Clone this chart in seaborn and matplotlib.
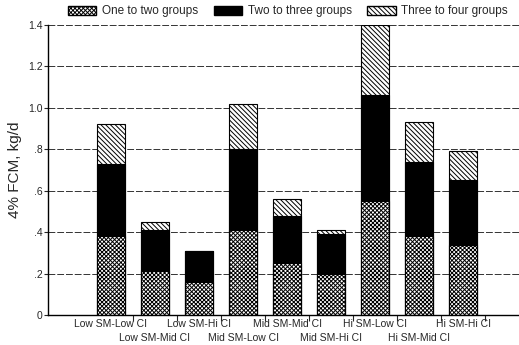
import matplotlib
matplotlib.use("Agg")
import matplotlib.pyplot as plt
import seaborn as sns
import pandas as pd
from matplotlib.patches import Patch
from matplotlib.ticker import FuncFormatter

treatments = ["Low SM-Low CI", "Low SM-Mid CI", "Low SM-Hi CI",
              "Mid SM-Low CI", "Mid SM-Mid CI", "Mid SM-Hi CI",
              "Hi SM-Low CI", "Hi SM-Mid CI", "Hi SM-Hi CI"]
one_to_two = [0.38, 0.21, 0.16, 0.41, 0.25, 0.20, 0.55, 0.38, 0.34]
two_to_three = [0.35, 0.20, 0.15, 0.39, 0.23, 0.19, 0.51, 0.36, 0.31]
three_to_four = [0.19, 0.04, 0.00, 0.22, 0.08, 0.02, 0.34, 0.19, 0.14]

df = pd.DataFrame({"treatment": treatments,
                   "one": one_to_two, "two": two_to_three, "three": three_to_four})
df["lvl1"] = df["one"]
df["lvl2"] = df["one"] + df["two"]
df["lvl3"] = df["lvl2"] + df["three"]

sns.set_style("white")
plt.rcParams["font.family"] = ["Liberation Sans", "DejaVu Sans"]
plt.rcParams["hatch.linewidth"] = 0.7

HATCH_LOW = "xxxxxxxx"
HATCH_TOP = "\\\\\\\\\\\\\\"

fig = plt.figure(figsize=(5.19, 3.45), dpi=100)
ax = fig.add_axes([0.0925, 0.087, 0.9075, 0.8405])

# horizontal grid behind the bars
for v in [0.2, 0.4, 0.6, 0.8, 1.0, 1.2, 1.4]:
    ax.axhline(v, color="#333333", lw=0.7, ls=(0, (7, 2)), zorder=0)

bar_kw = dict(x="treatment", order=treatments, width=0.64, edgecolor="black",
              linewidth=0.8, ax=ax, zorder=2)
sns.barplot(data=df, y="lvl3", color="white", hatch=HATCH_TOP, **bar_kw)
sns.barplot(data=df, y="lvl2", color="black", **bar_kw)
sns.barplot(data=df, y="lvl1", color="white", hatch=HATCH_LOW, **bar_kw)

ax.set_xlim(-1.43, 9.27)
ax.set_ylim(0, 1.4)
ax.set_yticks([0, 0.2, 0.4, 0.6, 0.8, 1.0, 1.2, 1.4])
ax.yaxis.set_major_formatter(FuncFormatter(
    lambda v, p: "0" if v == 0 else (f"{v:.1f}" if v >= 1 else f"{v:.1f}"[1:])))
ax.set_xticks(range(len(treatments)))
ax.set_xticklabels(treatments)
ax.set_xticks([i + 0.5 for i in range(len(treatments))], minor=True)
ax.tick_params(axis="x", which="major", length=0, labelsize=7.5, pad=3)
ax.tick_params(axis="x", which="minor", length=4, width=0.8, direction="out", bottom=True)
for i, t in enumerate(ax.xaxis.get_major_ticks()):
    if i % 2 == 1:
        t.set_pad(13)
ax.tick_params(axis="y", length=3, width=0.8, direction="out", labelsize=7.5, left=True, pad=1)
ax.set_xlabel("")
ax.set_ylabel("4% FCM, kg/d", fontsize=11, labelpad=4)
for s in ["top", "right"]:
    ax.spines[s].set_visible(False)
for s in ["left", "bottom"]:
    ax.spines[s].set_color("black")
    ax.spines[s].set_linewidth(1.0)

handles = [Patch(facecolor="white", edgecolor="black", hatch=HATCH_LOW, label="One to two groups"),
           Patch(facecolor="black", edgecolor="black", label="Two to three groups"),
           Patch(facecolor="white", edgecolor="black", hatch=HATCH_TOP, label="Three to four groups")]
fig.legend(handles=handles, loc="upper center", bbox_to_anchor=(0.555, 1.015), ncol=3,
           frameon=False, fontsize=8.5, handlelength=2.4, handleheight=0.8,
           columnspacing=1.3, handletextpad=0.5)

fig.savefig("out.png", dpi=100)
